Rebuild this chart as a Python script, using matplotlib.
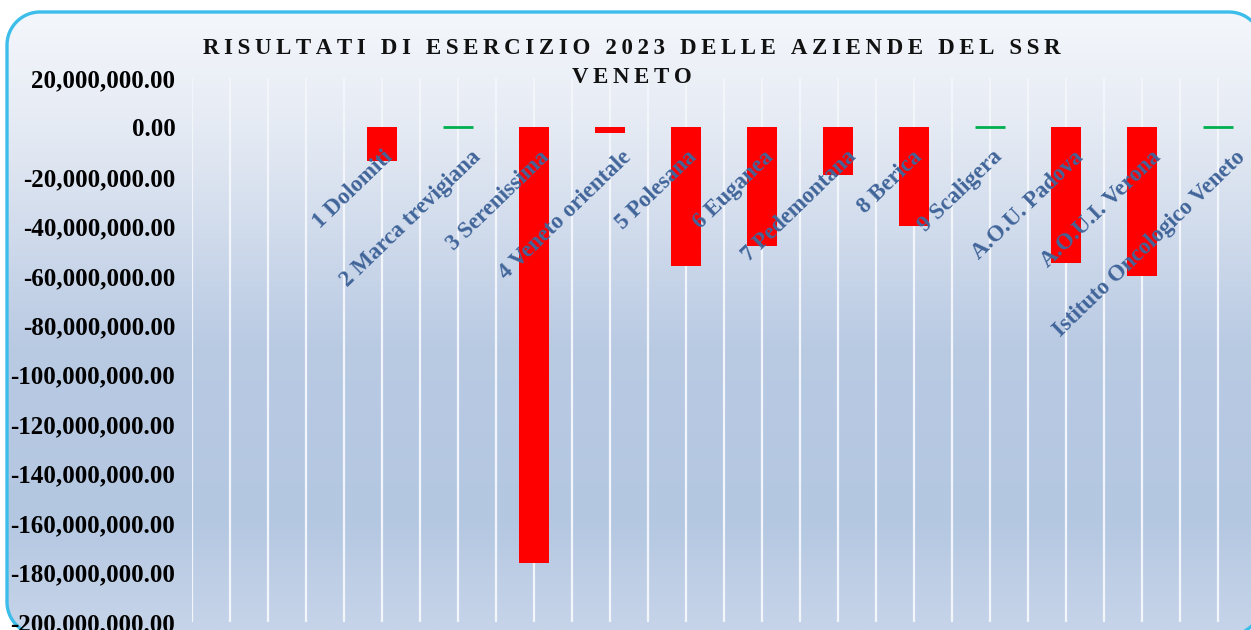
import numpy as np
import matplotlib
matplotlib.use("Agg")
import matplotlib.pyplot as plt
from matplotlib.patches import Polygon
from matplotlib.colors import LinearSegmentedColormap
from matplotlib.ticker import FuncFormatter

# ---- data ----
categories = ["1 Dolomiti", "2 Marca trevigiana", "3 Serenissima", "4 Veneto orientale",
              "5 Polesana", "6 Euganea", "7 Pedemontana", "8 Berica", "9 Scaligera",
              "A.O.U. Padova", "A.O.U.I. Verona", "Istituto Oncologico Veneto"]
results = [-13400000, 300000, -176000000, -2200000, -56000000, -48000000,
           -19400000, -40000000, 200000, -55000000, -60200000, 300000]
title_lines = ["RISULTATI DI ESERCIZIO 2023 DELLE AZIENDE DEL SSR", "VENETO"]
y_ticks = list(range(-200000000, 20000001, 20000000))

W, H = 1251, 630
fig = plt.figure(figsize=(W / 100, H / 100), dpi=100)
fig.patch.set_facecolor("white")

# background with gradient and rounded border (pixel coords, y down)
bg = fig.add_axes([0, 0, 1, 1])
bg.set_xlim(0, W)
bg.set_ylim(H, 0)
bg.axis("off")
cmap = LinearSegmentedColormap.from_list(
    "bg", [(0.0, "#F6F8FC"), (0.22, "#E3E9F3"), (0.55, "#B9CAE3"), (0.82, "#B4C7E1"), (1.0, "#C6D4E9")])
grad = np.linspace(0, 1, 256).reshape(-1, 1)
im = bg.imshow(grad, extent=[0, W, H, 0], aspect="auto", cmap=cmap, zorder=0)


def rounded_rect(l, t, r, b, rad, n=24):
    pts = []
    corners = [(r - rad, t + rad, -90, 0), (r - rad, b - rad, 0, 90),
               (l + rad, b - rad, 90, 180), (l + rad, t + rad, 180, 270)]
    for cx, cy, a0, a1 in corners:
        a = np.radians(np.linspace(a0, a1, n))
        pts.extend(zip(cx + rad * np.cos(a), cy + rad * np.sin(a)))
    return np.array(pts)


box = Polygon(rounded_rect(7, 12, 1262, 635, 33), closed=True, facecolor="none",
              edgecolor="#3CBDEA", linewidth=2.4, zorder=2)
bg.add_patch(box)
im.set_clip_path(box)

# main axes
x_left, x_right = 192, 1256
y_top, y_bot = 78, 622
ax = fig.add_axes([x_left / W, (H - y_bot) / H, (x_right - x_left) / W, (y_bot - y_top) / H])
ax.patch.set_alpha(0)
for s in ax.spines.values():
    s.set_visible(False)

x = np.arange(len(categories))
colors = ["#FF0000" if v < 0 else "#00B050" for v in results]
lws = [0 if v < 0 else 2.0 for v in results]
ax.bar(x, results, width=0.4, color=colors, edgecolor=colors, linewidth=lws, zorder=3)

ax.set_xlim(-2.5, 11.5)
ax.set_ylim(-200000000, 20000000)
grid_pos = np.arange(-2.5, 11.51, 0.5)
ax.set_xticks(grid_pos)
ax.set_xticklabels([])
ax.grid(axis="x", color="#F2F5FA", linewidth=1.6, zorder=1)
ax.tick_params(axis="both", length=0)

ax.set_yticks(y_ticks)
ax.yaxis.set_major_formatter(FuncFormatter(lambda v, p: f"{v:,.2f}"))
for lab in ax.get_yticklabels():
    lab.set_fontfamily("Liberation Serif")
    lab.set_fontweight("bold")
    lab.set_fontsize(18)
    lab.set_color("black")
ax.tick_params(axis="y", pad=12)

# category labels (rotated, Excel-like anchoring)
renderer = fig.canvas.get_renderer()
px_per_unit = (x_right - x_left) / 14.0
px_per_val = (y_bot - y_top) / 220000000.0
rot = 44
lab_kw = dict(fontsize=16.5, fontweight="bold", family="Liberation Serif", color="#41659A")
for xi, name in zip(x, categories):
    tmp = fig.text(0, 0, name, **lab_kw)
    w = tmp.get_window_extent(renderer=renderer).width
    tmp.remove()
    lx = w * np.cos(np.radians(rot))
    off_px = min(0.2 * lx - 14, 1235 - (382 + 76 * xi))
    ax.text(xi + off_px / px_per_unit, -19.0 / px_per_val, name, rotation=rot,
            rotation_mode="anchor", ha="right", va="top", zorder=4, **lab_kw)

# title with letter spacing
ts = "\u2009"
def spaced(s):
    return (ts + " " + ts).join(ts.join(list(word)) for word in s.split(" "))
tkw = dict(ha="center", va="baseline", fontsize=16.5, fontweight="bold",
           family=["Liberation Serif", "DejaVu Serif"], color="#111111")
fig.text(632 / W, 1 - 54 / H, spaced(title_lines[0]), **tkw)
fig.text(632 / W, 1 - 83 / H, spaced(title_lines[1]), **tkw)

fig.savefig("out.png", dpi=100)
